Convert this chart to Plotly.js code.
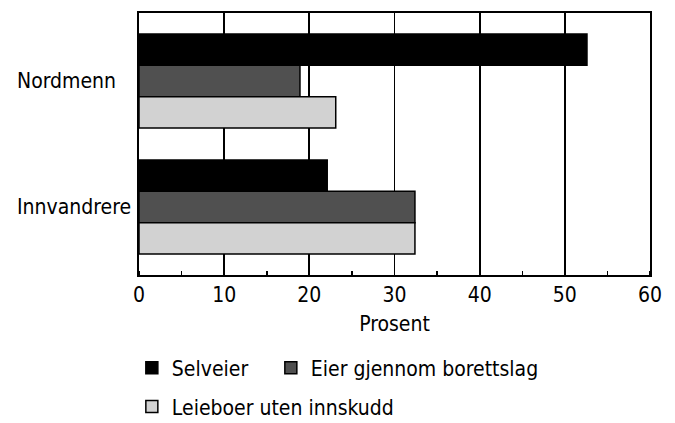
<!DOCTYPE html>
<html>
<head>
<meta charset="utf-8">
<script src="https://cdn.plot.ly/plotly-3.0.1.min.js"></script>
<style>html,body{margin:0;padding:0;background:#fff;}#chart{width:675px;height:423px;}</style>
</head>
<body>
<div id="chart"></div>
<script>
var categories = ['Nordmenn', 'Innvandrere'];
var seriesNames = ['Selveier', 'Eier gjennom borettslag', 'Leieboer uten innskudd'];
var selveier = [52.6, 22.1];
var borettslag = [18.9, 32.4];
var leieboer = [23.1, 32.4];
var xTicks = [0, 10, 20, 30, 40, 50, 60];

var FONT = '"DejaVu Sans Condensed", "Liberation Sans Narrow", sans-serif';
var FS = 21;
var colors = ['#000000', '#505050', '#d2d2d2'];
var values = [selveier, borettslag, leieboer];
var legendIds = ['legend', 'legend3', 'legend2'];

var data = seriesNames.map(function (name, i) {
  return {
    type: 'bar',
    orientation: 'h',
    name: name,
    y: categories,
    x: values[i],
    marker: {color: colors[i], line: {color: '#000', width: 1.5}},
    legend: legendIds[i],
    hoverinfo: 'x+name'
  };
});

var annotations = categories.map(function (c) {
  return {
    text: c,
    xref: 'paper', x: -0.243, xanchor: 'left',
    yref: 'y', y: c, yanchor: 'middle',
    showarrow: false,
    font: {family: FONT, size: FS, color: '#000'}
  };
});

function legendAt(x, y) {
  return {
    orientation: 'h',
    x: x, xanchor: 'left',
    y: y, yanchor: 'middle',
    font: {family: FONT, size: FS, color: '#000'},
    bgcolor: 'rgba(0,0,0,0)'
  };
}

var layout = {
  width: 675,
  height: 423,
  margin: {l: 139, r: 25, t: 13, b: 148, autoexpand: false},
  paper_bgcolor: '#fff',
  plot_bgcolor: '#fff',
  font: {family: FONT, size: FS, color: '#000'},
  barmode: 'group',
  bargap: 0.254,
  bargroupgap: 0,
  showlegend: true,
  annotations: annotations,
  xaxis: {
    range: [0, 60],
    tickvals: xTicks,
    ticktext: xTicks.map(String),
    showgrid: true,
    gridcolor: '#000',
    gridwidth: 1.8,
    zeroline: false,
    showline: true,
    linecolor: '#000',
    linewidth: 2,
    mirror: true,
    ticks: '',
    minor: {dtick: 5, ticks: 'inside', ticklen: 4, tickcolor: '#000', tickwidth: 1.5, showgrid: false},
    tickfont: {family: FONT, size: FS},
    title: {text: 'Prosent', font: {family: FONT, size: FS}, standoff: 10}
  },
  yaxis: {
    type: 'category',
    range: [1.54, -0.54],
    showgrid: false,
    zeroline: false,
    showline: true,
    linecolor: '#000',
    linewidth: 1.8,
    mirror: true,
    ticks: '',
    showticklabels: false
  },
  legend: legendAt(-0.014, -0.3435 - 0.012),
  legend3: legendAt(0.258, -0.3435 - 0.012),
  legend2: legendAt(-0.014, -0.5076 + 0.004)
};

Plotly.newPlot('chart', data, layout, {displayModeBar: false, staticPlot: true});
</script>
</body>
</html>
